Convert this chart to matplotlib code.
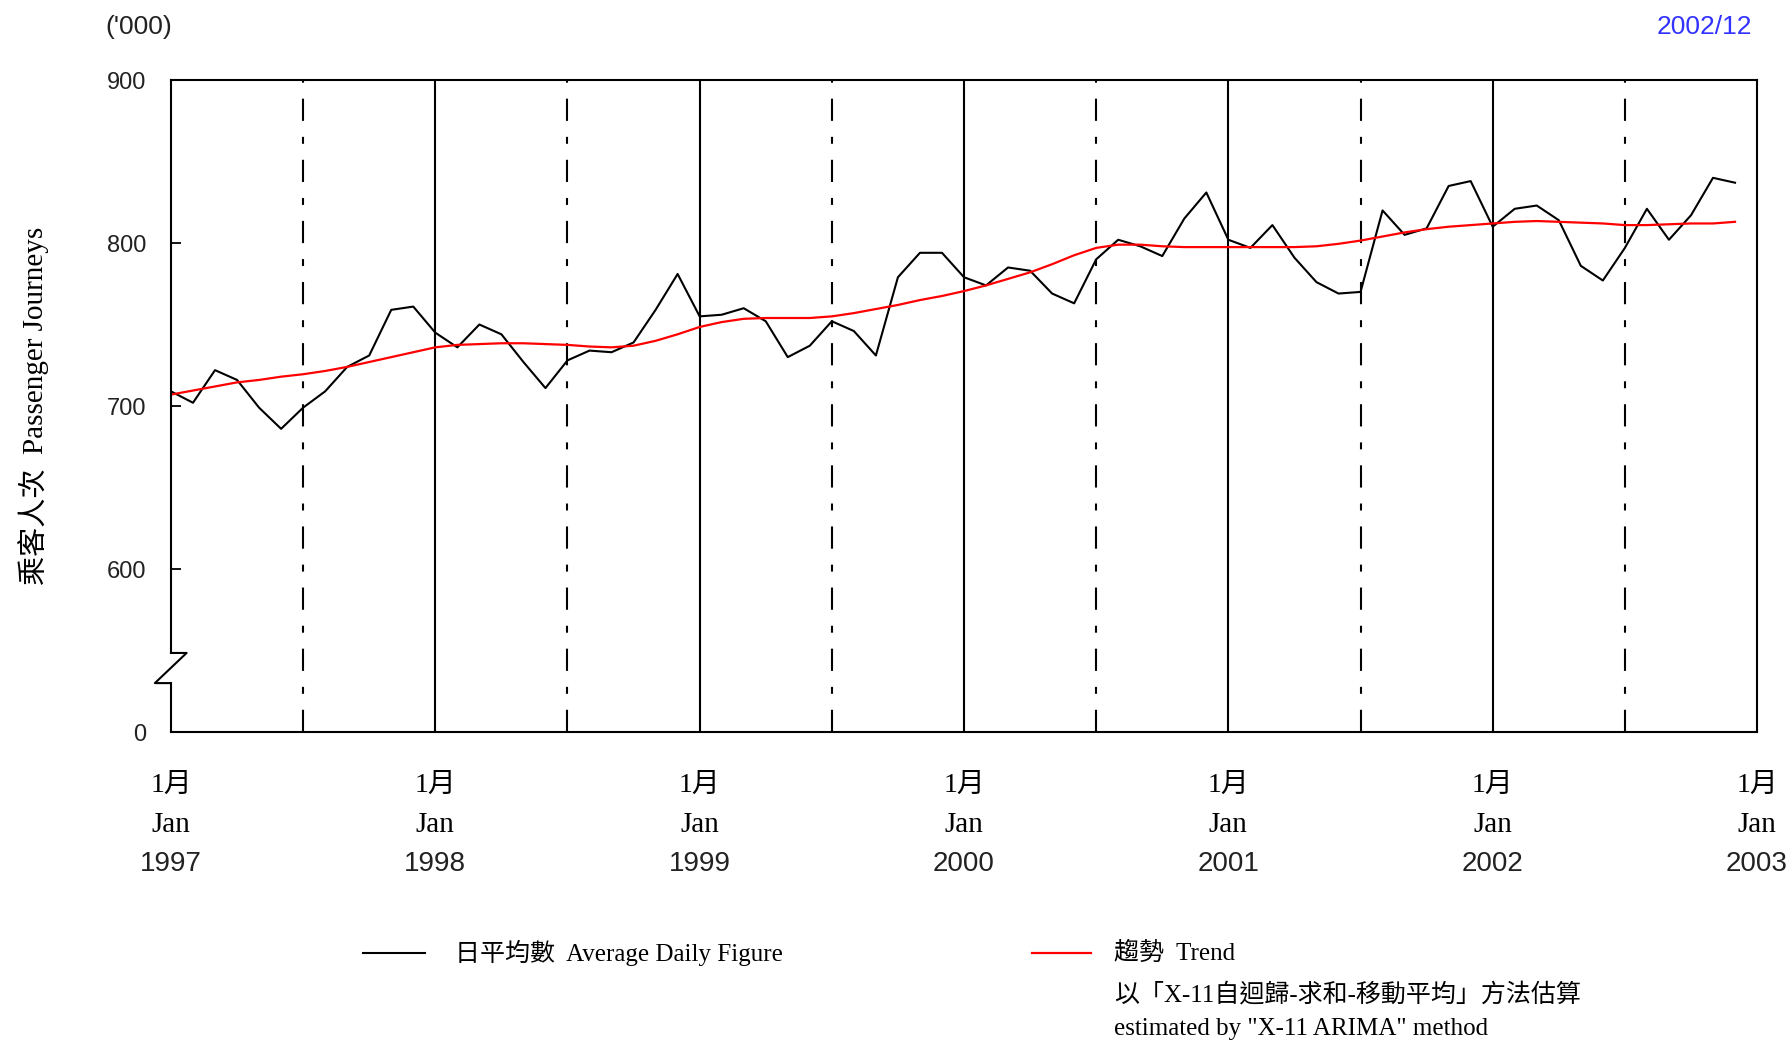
import numpy as np
import matplotlib
matplotlib.use("Agg")
import matplotlib.pyplot as plt
from matplotlib.lines import Line2D

plt.rcParams["font.family"] = ["Liberation Sans", "Noto Sans CJK TC"]
plt.rcParams["lines.scale_dashes"] = False

# monthly values, Jan 1997 .. Dec 2002 ('000 passenger journeys)
daily_avg = [
    709, 702, 722, 716, 699, 686, 699, 709, 724, 731, 759, 761,
    745, 736, 750, 744, 727, 711, 728, 734, 733, 739, 759, 781,
    755, 756, 760, 752, 730, 737, 752, 746, 731, 779, 794, 794,
    779, 774, 785, 783, 769, 763, 790, 802, 798, 792, 815, 831,
    802, 797, 811, 791, 776, 769, 770, 820, 805, 809, 835, 838,
    810, 821, 823, 814, 786, 777, 797, 821, 802, 817, 840, 837,
]
trend = [
    707, 709.5, 712, 714.5, 716, 718, 719.5, 721.5, 724, 727, 730, 733,
    736, 737.5, 738, 738.5, 738.5, 738, 737.5, 736.5, 736, 737, 740, 744,
    748.5, 751.5, 753.5, 754, 754, 754, 755, 757, 759.5, 762, 765, 767.5,
    770.5, 774, 778, 782, 787, 792.5, 797, 799, 799, 798, 797.5, 797.5,
    797.5, 797.5, 797.5, 797.5, 798, 799.5, 801.5, 804, 806.5, 808.5, 810, 811,
    812, 813, 813.5, 813, 812.5, 812, 811, 811, 811.5, 812, 812, 813,
]
years = ["1997", "1998", "1999", "2000", "2001", "2002", "2003"]
ytick_vals = [500, 600, 700, 800, 900]
ytick_labels = ["0", "600", "700", "800", "900"]

months = np.arange(len(daily_avg))
serif = ["Liberation Serif", "Noto Sans CJK TC"]

fig = plt.figure(figsize=(17.92, 10.42), dpi=100)
ax = fig.add_axes([0.0954, 0.2975, 0.8851, 0.6257])

ax.set_xlim(0, 72)
ax.set_ylim(500, 900)

# year / mid-year grid lines
for k in range(1, 6):
    ax.axvline(12 * k, color="black", lw=1.5)
for k in range(6):
    ax.axvline(12 * k + 6, color="black", lw=1.5, dashes=(16, 11.5, 5, 11.5))

ax.plot(months, daily_avg, color="black", lw=1.5)
ax.plot(months, trend, color="red", lw=1.6)

# axis break on the left spine
for s in ["left", "right", "top", "bottom"]:
    ax.spines[s].set_linewidth(1.5)
ax.spines["left"].set_visible(False)
brk_lo, brk_hi = 530, 548.5
ax.plot([0, 0], [500, brk_lo], color="black", lw=1.5, clip_on=False)
ax.plot([0, 0], [brk_hi, 900], color="black", lw=1.5, clip_on=False)
ax.plot([0, 0.71, -0.73, 0], [brk_hi, brk_hi, brk_lo, brk_lo],
        color="black", lw=1.5, clip_on=False)

ax.set_yticks(ytick_vals, ytick_labels)
ax.tick_params(axis="y", direction="in", length=7, width=1.3, pad=18,
               labelsize=17, colors="black")
ax.tick_params(axis="y", labelcolor="#222222")

# x labels: three lines per year start
tick_pos = np.arange(0, 73, 12)
ax.set_xticks(tick_pos, [""] * len(tick_pos))
ax.tick_params(axis="x", length=0)
xt = ax.get_xaxis_transform()
for x, y in zip(tick_pos, years):
    ax.text(x, -0.082, "1月", transform=xt, ha="center", va="center",
            family=serif, fontsize=20)
    ax.text(x, -0.142, "Jan", transform=xt, ha="center", va="center",
            family=serif, fontsize=21)
    ax.text(x, -0.202, y, transform=xt, ha="center", va="center",
            fontsize=20, color="#222222")

ax.set_ylabel("乘客人次  Passenger Journeys", family=serif, fontsize=21)
ax.yaxis.set_label_coords(-0.077, 0.5)

fig.text(0.059, 0.974, "('000)", fontsize=19, va="center", color="#222222")
fig.text(0.978, 0.974, "2002/12", fontsize=19, va="center", ha="right",
         color="#3333ff")

# legend
ly = 1 - 953 / 1042
fig.add_artist(Line2D([363 / 1792, 425 / 1792], [ly, ly], color="black", lw=1.5))
fig.text(455 / 1792, ly, "日平均數  Average Daily Figure",
         family=serif, fontsize=18, va="center")
fig.add_artist(Line2D([1032 / 1792, 1091 / 1792], [ly, ly], color="red", lw=1.6))
fig.text(1114 / 1792, ly, "趨勢  Trend", family=serif, fontsize=18, va="center")
fig.text(1114 / 1792, 1 - 995 / 1042, "以「X-11自迴歸-求和-移動平均」方法估算",
         family=serif, fontsize=18, va="center")
fig.text(1114 / 1792, 1 - 1029 / 1042, 'estimated by "X-11 ARIMA" method',
         family=serif, fontsize=18, va="center")

fig.savefig("out.png", dpi=100)
